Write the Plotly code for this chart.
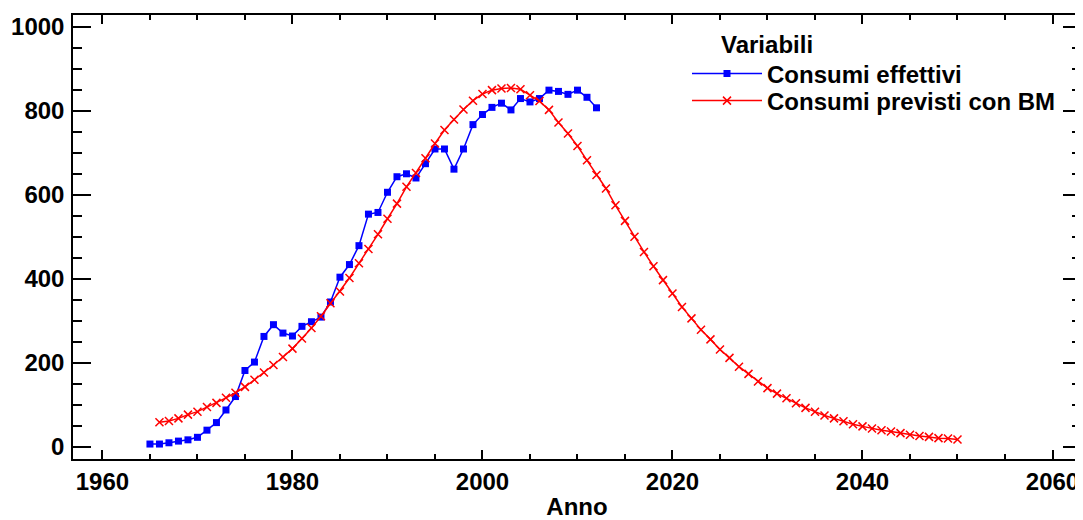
import plotly.graph_objects as go

# consumi effettivi, 1965-2012
anni_effettivi = list(range(1965, 2013))
consumi_effettivi = [
    7, 7, 10, 14, 17, 23, 40, 58, 88, 120,
    182, 202, 263, 291, 271, 264, 287, 298, 309, 345,
    404, 434, 479, 554, 558, 606, 643, 650, 640, 674,
    709, 709, 661, 709, 767, 791, 808, 818, 802, 829,
    821, 829, 849, 846, 839, 849, 832, 807,
]

# consumi previsti con BM, 1966-2050
anni_previsti = list(range(1966, 2051))
consumi_previsti = [
    59, 62, 68, 77, 84, 95, 105, 117, 129,
    143, 160, 177, 195, 214, 234, 258, 283, 311, 342,
    370, 402, 437, 471, 506, 543, 579, 619, 652, 687,
    722, 754, 779, 803, 824, 840, 849, 853, 854, 851,
    837, 823, 802, 772, 746, 716, 682, 647, 615, 575,
    538, 500, 464, 430, 397, 365, 333, 306, 279, 256,
    232, 212, 191, 174, 156, 140, 127, 116, 104, 93,
    84, 75, 68, 61, 54, 49, 44, 40, 37, 33,
    29, 26, 24, 21, 20, 18,
]

FONT = dict(family="Liberation Sans, Arial, sans-serif", size=24, color="black", weight="bold")

# the page body has an 8px margin, so work in figure pixels = screen - 8
OFF = 8
W, H = 1083 - OFF, 520 - OFF
L, R, T, B = 73 - OFF, 1081 - OFF, 15 - OFF, 459 - OFF
PW, PH = R - L, B - T


def px(sx):
    return (sx - OFF - L) / PW


def py(sy):
    return (B - (sy - OFF)) / PH


fig = go.Figure()

fig.add_trace(go.Scatter(
    x=anni_effettivi, y=consumi_effettivi,
    name="Consumi effettivi", legend="legend",
    mode="lines+markers",
    line=dict(color="#0000ff", width=1.5),
    marker=dict(symbol="square", size=7, color="#0000ff"),
))

fig.add_trace(go.Scatter(
    x=anni_previsti, y=consumi_previsti,
    name="Consumi previsti con BM", legend="legend2",
    mode="lines+markers",
    line=dict(color="#ff0000", width=1.5),
    marker=dict(symbol="x-thin", size=8, color="#ff0000",
                line=dict(color="#ff0000", width=1.5)),
))

axis_common = dict(
    showline=True, linecolor="black", linewidth=1.5, mirror="allticks",
    showgrid=False, zeroline=False, ticks="inside", tickcolor="black",
    tickwidth=1.5, tickfont=FONT, automargin=False,
)

fig.update_xaxes(
    **axis_common,
    range=[1956.9, 2063], tick0=1960, dtick=20, ticklen=9,
    minor=dict(dtick=5, tick0=1960, ticks="inside", ticklen=5, tickcolor="black", tickwidth=1.5),
    ticklabelstandoff=0,
    title=dict(text="Anno", font=FONT, standoff=23),
)

fig.update_yaxes(
    **axis_common,
    range=[-28.6, 1027.8], tick0=0, dtick=200, ticklen=18,
    minor=dict(dtick=50, tick0=0, ticks="inside", ticklen=9, tickcolor="black", tickwidth=1.5),
    ticklabelstandoff=2,
)

fig.add_annotation(
    text="Variabili", xref="paper", yref="paper",
    x=px(719), y=py(45),
    xanchor="left", yanchor="middle", showarrow=False, font=FONT,
)

legend_common = dict(
    xanchor="left", yanchor="middle", bgcolor="rgba(0,0,0,0)",
    font=FONT, itemwidth=70,
)

fig.update_layout(
    width=W, height=H,
    margin=dict(l=L, r=W - R, t=T, b=H - B),
    paper_bgcolor="white", plot_bgcolor="white",
    font=FONT,
    showlegend=True,
    legend=dict(**legend_common, x=px(687), y=py(74)),
    legend2=dict(**legend_common, x=px(687), y=py(101)),
)

fig.write_html("out.html")
